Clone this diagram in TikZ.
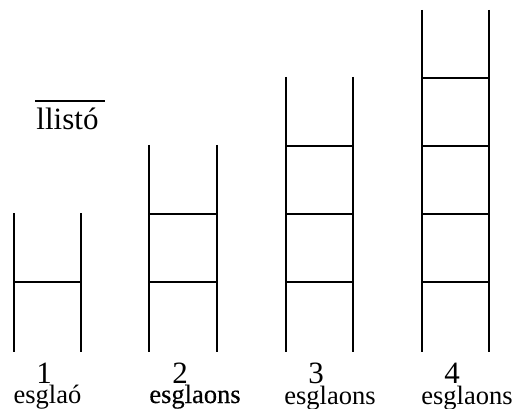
\documentclass[tikz,border=0pt]{standalone}
\usepackage{fontspec}
\setmainfont{Liberation Serif}
\newfontfamily\boldish[FakeBold=0.4]{Liberation Serif}
\begin{document}
\begin{tikzpicture}[x=1pt,y=-1pt,
  rail/.style={line width=2.8pt},
  rung/.style={line width=2.4pt},
  num/.style={anchor=base,inner sep=0pt,font=\fontsize{31}{31}\selectfont},
  word/.style={anchor=base,inner sep=0pt,font=\fontsize{26.5}{26.5}\selectfont}]
\useasboundingbox (0,0) rectangle (517,409);
% ladder 1
\coordinate (a1t) at (14,213); \coordinate (a1b) at (14,352);
\coordinate (b1t) at (81,213); \coordinate (b1b) at (81,352);
\draw[rail] (a1t) -- (a1b); \draw[rail] (b1t) -- (b1b);
\foreach \y in {282} \draw[rung] (14,\y) -- (81,\y);
% ladder 2
\coordinate (a2t) at (149,145); \coordinate (a2b) at (149,352);
\coordinate (b2t) at (217,145); \coordinate (b2b) at (217,352);
\draw[rail] (a2t) -- (a2b); \draw[rail] (b2t) -- (b2b);
\foreach \y in {282,214} \draw[rung] (149,\y) -- (217,\y);
% ladder 3
\coordinate (a3t) at (286,77); \coordinate (a3b) at (286,352);
\coordinate (b3t) at (353,77); \coordinate (b3b) at (353,352);
\draw[rail] (a3t) -- (a3b); \draw[rail] (b3t) -- (b3b);
\foreach \y in {282,214,146} \draw[rung] (286,\y) -- (353,\y);
% ladder 4
\coordinate (a4t) at (422,10); \coordinate (a4b) at (422,352);
\coordinate (b4t) at (489,10); \coordinate (b4b) at (489,352);
\draw[rail] (a4t) -- (a4b); \draw[rail] (b4t) -- (b4b);
\foreach \y in {282,214,146,78} \draw[rung] (422,\y) -- (489,\y);
% labels
\node[num] (n1) at (44,383) {1};
\node[word] (w1) at (47.5,403) {esglaó};
\node[num] (n2) at (180,383) {2};
\node[word,font=\fontsize{26.5}{26.5}\boldish] (w2) at (195,403) {esglaons};
\node[num] (n3) at (316,383) {3};
\node[word] (w3) at (330,404) {esglaons};
\node[num] (n4) at (452,383) {4};
\node[word] (w4) at (467,404) {esglaons};
\node[num] (ll) at (67.5,130) {llistó};
\draw[line width=2pt] (35,101) -- (105,101);
\end{tikzpicture}
\end{document}
